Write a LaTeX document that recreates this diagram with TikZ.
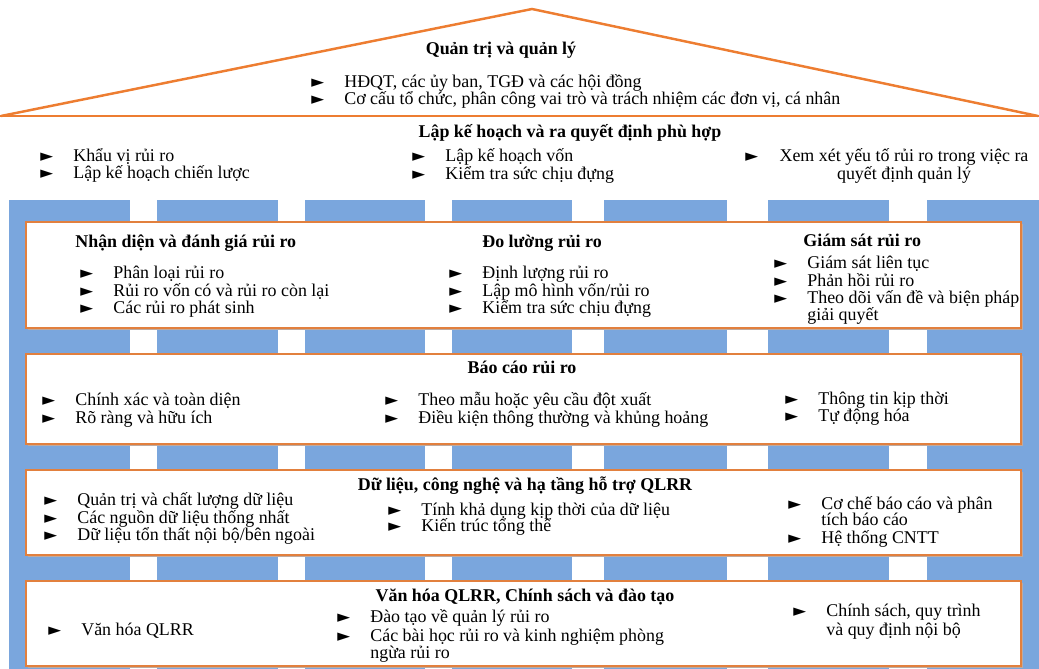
\documentclass[tikz,border=0pt]{standalone}
\usepackage{fontspec}
\setmainfont{Liberation Serif}
\newfontfamily\dejavu{DejaVu Sans}
\definecolor{roofline}{RGB}{237,125,49}
\definecolor{pillarblue}{RGB}{122,166,221}
\definecolor{panelline}{RGB}{226,128,62}
\definecolor{panelshade}{RGB}{190,170,160}
% dấu mũi tên đầu dòng
\newcommand{\mk}{\makebox[0.66cm][l]{\dejavu\fontsize{9.5}{9.5}\selectfont\raisebox{-0.1ex}{►}}}

\begin{document}
\begin{tikzpicture}[x=0.02cm, y=-0.02cm,
  txt/.style={anchor=west, inner sep=0pt, text height=1ex, text depth=0pt, font=\fontsize{10.2}{10.2}\selectfont},
  head/.style={txt, anchor=center, font=\fontsize{10.2}{10.2}\selectfont\bfseries},
  panel/.style={draw=panelline, line width=0.8pt, fill=white}]
\useasboundingbox (0,0) rectangle (1039,669);

% mái nhà: quản trị
\draw[roofline, line width=1.4pt, line join=miter] (1,116) -- (532,9) -- (1038,116);
\draw[roofline, line width=1.4pt] (0,116) -- (1039,116);
\node[head] (gov) at (501,50) {Quản trị và quản lý};
\node[txt] (gov1) at (311,83) {\mk HĐQT, các ủy ban, TGĐ và các hội đồng};
\node[txt] (gov2) at (311,100) {\mk Cơ cấu tổ chức, phân công vai trò và trách nhiệm các đơn vị, cá nhân};

% dải kế hoạch
\node[head] (plan) at (570,133) {Lập kế hoạch và ra quyết định phù hợp};
\node[txt] (plan1) at (40,157) {\mk Khẩu vị rủi ro};
\node[txt] (plan2) at (40,174) {\mk Lập kế hoạch chiến lược};
\node[txt] (plan3) at (412,157) {\mk Lập kế hoạch vốn};
\node[txt] (plan4) at (412,175) {\mk Kiểm tra sức chịu đựng};
\node[txt] (plan5) at (745,157) {\mk};
\node[txt, anchor=center] (plan5a) at (904,157) {Xem xét yếu tố rủi ro trong việc ra};
\node[txt, anchor=center] (plan5b) at (904,175) {quyết định quản lý};

% nền xanh và các khe trắng
\fill[pillarblue] (9,200) rectangle (1039,669);
\fill[white] (130,200) rectangle (157,669);
\fill[white] (278,200) rectangle (305,669);
\fill[white] (425,200) rectangle (452,669);
\fill[white] (572,200) rectangle (604,669);
\fill[white] (727,200) rectangle (768,669);
\fill[white] (889,200) rectangle (927,669);

% các khối
\fill[panelshade] (28,224) rectangle (1023,330);
\draw[panel] (26,222) rectangle (1021,328);
\fill[panelshade] (28,356) rectangle (1023,446);
\draw[panel] (26,354) rectangle (1021,444);
\fill[panelshade] (28,472) rectangle (1023,557);
\draw[panel] (26,470) rectangle (1021,555);
\fill[panelshade] (28,583) rectangle (1023,668);
\draw[panel] (26,581) rectangle (1021,666);

% nhận diện, đo lường, giám sát
\node[head, anchor=west] (ident) at (75,243) {Nhận diện và đánh giá rủi ro};
\node[txt] (ident1) at (80,274) {\mk Phân loại rủi ro};
\node[txt] (ident2) at (80,292) {\mk Rủi ro vốn có và rủi ro còn lại};
\node[txt] (ident3) at (80,309) {\mk Các rủi ro phát sinh};
\node[head, anchor=west] (meas) at (482,243) {Đo lường rủi ro};
\node[txt] (meas1) at (449,274) {\mk Định lượng rủi ro};
\node[txt] (meas2) at (449,292) {\mk Lập mô hình vốn/rủi ro};
\node[txt] (meas3) at (449,309) {\mk Kiểm tra sức chịu đựng};
\node[head, anchor=west] (monit) at (803,242) {Giám sát rủi ro};
\node[txt] (monit1) at (774,264) {\mk Giám sát liên tục};
\node[txt] (monit2) at (774,282) {\mk Phản hồi rủi ro};
\node[txt] (monit3) at (774,299) {\mk Theo dõi vấn đề và biện pháp};
\node[txt] (monit4) at (807,316) {giải quyết};

% báo cáo
\node[head] (rep) at (522,369) {Báo cáo rủi ro};
\node[txt] (rep1) at (42,401) {\mk Chính xác và toàn diện};
\node[txt] (rep2) at (42,419) {\mk Rõ ràng và hữu ích};
\node[txt] (rep3) at (385,401) {\mk Theo mẫu hoặc yêu cầu đột xuất};
\node[txt] (rep4) at (385,419) {\mk Điều kiện thông thường và khủng hoảng};
\node[txt] (rep5) at (785,400) {\mk Thông tin kịp thời};
\node[txt] (rep6) at (785,417) {\mk Tự động hóa};

% dữ liệu, công nghệ
\node[head] (data) at (525,486) {Dữ liệu, công nghệ và hạ tầng hỗ trợ QLRR};
\node[txt] (data1) at (44,501) {\mk Quản trị và chất lượng dữ liệu};
\node[txt] (data2) at (44,519) {\mk Các nguồn dữ liệu thống nhất};
\node[txt] (data3) at (44,536) {\mk Dữ liệu tổn thất nội bộ/bên ngoài};
\node[txt] (data4) at (388,511) {\mk Tính khả dụng kịp thời của dữ liệu};
\node[txt] (data5) at (388,527) {\mk Kiến trúc tổng thể};
\node[txt] (data6) at (788,505) {\mk Cơ chế báo cáo và phân};
\node[txt] (data7) at (821,521) {tích báo cáo};
\node[txt] (data8) at (788,539) {\mk Hệ thống CNTT};

% văn hóa, chính sách
\node[head] (cult) at (525,597) {Văn hóa QLRR, Chính sách và đào tạo};
\node[txt] (cult1) at (48,631) {\mk Văn hóa QLRR};
\node[txt] (cult2) at (337,618) {\mk Đào tạo về quản lý rủi ro};
\node[txt] (cult3) at (337,637) {\mk Các bài học rủi ro và kinh nghiệm phòng};
\node[txt] (cult4) at (370,654) {ngừa rủi ro};
\node[txt] (cult5) at (793,612) {\mk Chính sách, quy trình};
\node[txt] (cult6) at (826,631) {và quy định nội bộ};

\end{tikzpicture}
\end{document}
